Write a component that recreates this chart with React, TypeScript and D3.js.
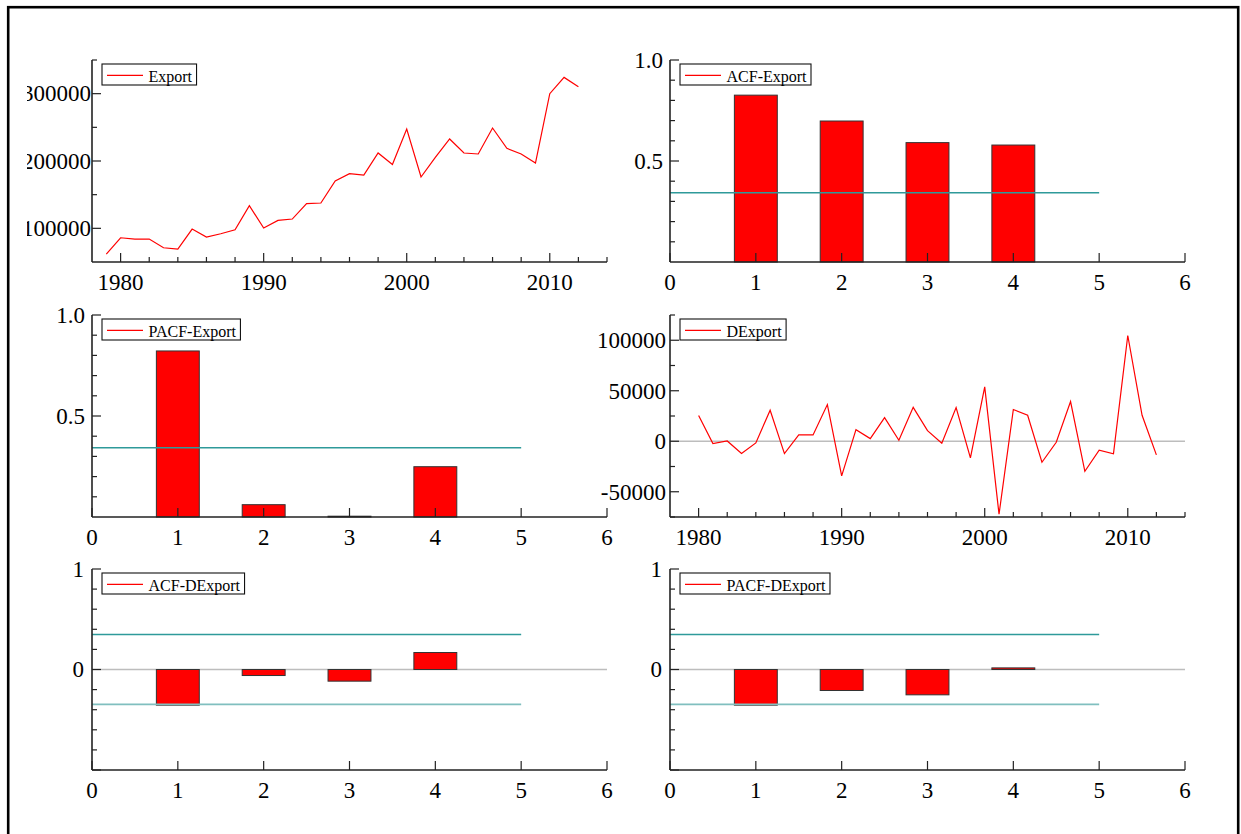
import React from 'react';
import * as d3 from 'd3';

// ---------- data ----------
const years = [1979, 1980, 1981, 1982, 1983, 1984, 1985, 1986, 1987, 1988, 1989, 1990, 1991, 1992, 1993, 1994, 1995, 1996, 1997, 1998, 1999, 2000, 2001, 2002, 2003, 2004, 2005, 2006, 2007, 2008, 2009, 2010, 2011, 2012];
const exportValues = [61800, 86000, 84100, 84100, 71200, 69300, 98900, 87000, 91900, 97900, 133600, 100400, 111800, 113800, 136600, 137600, 170300, 181100, 179100, 211900, 194900, 247500, 176200, 205400, 232700, 211900, 210400, 249000, 218800, 210400, 197000, 300000, 324200, 310400];
const dYears = [1980, 1981, 1982, 1983, 1984, 1985, 1986, 1987, 1988, 1989, 1990, 1991, 1992, 1993, 1994, 1995, 1996, 1997, 1998, 1999, 2000, 2001, 2002, 2003, 2004, 2005, 2006, 2007, 2008, 2009, 2010, 2011, 2012];
const dExportValues = [25400, -2300, 300, -12200, -1700, 30700, -12200, 6300, 6300, 36300, -34300, 11500, 2600, 23400, 1000, 33600, 10500, -2000, 33300, -16500, 53800, -72300, 31400, 25700, -20800, -1000, 39300, -29700, -8900, -12500, 104700, 25700, -13500];
const lags = [1, 2, 3, 4];
const acfExport = [0.826, 0.698, 0.591, 0.579];
const pacfExport = [0.822, 0.061, 0.004, 0.249];
const acfDExport = [-0.355, -0.06, -0.116, 0.169];
const pacfDExport = [-0.355, -0.209, -0.252, 0.016];
const bandExport = 0.343;
const bandDExport = 0.348;

const yearTickLabels = [1980, 1990, 2000, 2010];
const lagTickLabels = [0, 1, 2, 3, 4, 5, 6];
const exportYTicks = [100000, 200000, 300000];
const dExportYTicks = [-50000, 0, 50000, 100000];
const acfYTicks = [0.5, 1.0];
const dAcfYTicks = [0, 1];

// ---------- layout ----------
const W = 1241;
const H = 834;
const FONT = "'Liberation Serif', 'Times New Roman', serif";
const TICK_FS = 23;
const colX = [92, 670];
const rowY = [60, 315, 569];
const rowH = [202, 202, 201];
const PW = 515;
const RED = '#ff0000';
const AXIS = '#222';

function measure(text: string, size: number) {
  try {
    const c = document.createElement('canvas').getContext('2d');
    if (c) {
      c.font = `${size}px 'Liberation Serif'`;
      return c.measureText(text).width;
    }
  } catch (e) {}
  return text.length * size * 0.5;
}

type Cfg = {
  col: number;
  row: number;
  kind: 'line' | 'bar';
  legend: string;
  xDomain: [number, number];
  yDomain: [number, number];
  xMajor: number[];
  xMinor: number[];
  yMajor: number[];
  yMinor: number[];
  yLabels: number[];
  yFmt: (v: number) => string;
  labelGap: number;
  xs: number[];
  ys: number[];
  band?: number;
  bandLower?: boolean;
  zero?: boolean;
  clipId?: string;
};

function Panel({ cfg }: { cfg: Cfg }) {
  const x0 = colX[cfg.col];
  const y0 = rowY[cfg.row];
  const h = rowH[cfg.row];
  const xs = d3.scaleLinear().domain(cfg.xDomain).range([x0, x0 + PW]);
  const ys = d3.scaleLinear().domain(cfg.yDomain).range([y0 + h, y0]);
  const yBottom = y0 + h;
  const els: React.ReactNode[] = [];

  if (cfg.zero) {
    els.push(<line key="zero" x1={xs(cfg.xDomain[0])} x2={xs(cfg.xDomain[1])} y1={ys(0)} y2={ys(0)} stroke="#bdbdbd" strokeWidth={1.6} />);
  }
  if (cfg.kind === 'bar') {
    cfg.xs.forEach((l, i) => {
      const v = cfg.ys[i];
      const yt = ys(Math.max(0, v));
      const yb = ys(Math.min(0, v));
      els.push(
        <rect key={'b' + i} x={xs(l - 0.25)} y={yt} width={xs(l + 0.25) - xs(l - 0.25)} height={Math.max(0.8, yb - yt)} fill={RED} stroke="#333" strokeWidth={1} />
      );
    });
  }
  if (cfg.band !== undefined) {
    els.push(<line key="bu" x1={xs(0)} x2={xs(5)} y1={ys(cfg.band)} y2={ys(cfg.band)} stroke="#2e9a9a" strokeWidth={1.5} />);
    if (cfg.bandLower) {
      els.push(<line key="bl" x1={xs(0)} x2={xs(5)} y1={ys(-cfg.band)} y2={ys(-cfg.band)} stroke="#80bfbf" strokeWidth={1.8} />);
    }
  }
  if (cfg.kind === 'line') {
    const line = d3.line<number>().x((d, i) => xs(cfg.xs[i])).y((d) => ys(d));
    els.push(<path key="ln" d={line(cfg.ys) || ''} fill="none" stroke={RED} strokeWidth={1.2} />);
  }
  // axes
  els.push(<line key="ax" x1={x0} x2={x0 + PW} y1={yBottom} y2={yBottom} stroke={AXIS} strokeWidth={1.6} />);
  els.push(<line key="ay" x1={x0} x2={x0} y1={y0} y2={yBottom} stroke={AXIS} strokeWidth={1.6} />);
  cfg.xMajor.forEach((t) => {
    els.push(<line key={'xM' + t} x1={xs(t)} x2={xs(t)} y1={yBottom} y2={yBottom - 9} stroke={AXIS} strokeWidth={1.2} />);
    els.push(
      <text key={'xl' + t} x={xs(t)} y={yBottom + 28} textAnchor="middle" fontSize={TICK_FS} fontFamily={FONT} fill="#000">
        {String(t)}
      </text>
    );
  });
  cfg.xMinor.forEach((t) => {
    els.push(<line key={'xm' + t} x1={xs(t)} x2={xs(t)} y1={yBottom} y2={yBottom - 5} stroke={AXIS} strokeWidth={1.2} />);
  });
  cfg.yMajor.forEach((t) => {
    els.push(<line key={'yM' + t} x1={x0} x2={x0 + 9} y1={ys(t)} y2={ys(t)} stroke={AXIS} strokeWidth={1.2} />);
  });
  cfg.yMinor.forEach((t) => {
    els.push(<line key={'ym' + t} x1={x0} x2={x0 + 5} y1={ys(t)} y2={ys(t)} stroke={AXIS} strokeWidth={1.2} />);
  });
  const labels = cfg.yLabels.map((t) => (
    <text key={'yl' + t} x={x0 - cfg.labelGap} y={ys(t) + 7.8} textAnchor="end" fontSize={TICK_FS} fontFamily={FONT} fill="#000">
      {cfg.yFmt(t)}
    </text>
  ));
  els.push(
    <g key="ylabels" clipPath={cfg.clipId ? `url(#${cfg.clipId})` : undefined}>
      {labels}
    </g>
  );
  // legend
  const lx = x0 + 10;
  const ly = y0 + 4;
  const tw = measure(cfg.legend, 16);
  els.push(
    <g key="legend">
      <rect x={lx} y={ly} width={tw + 51} height={21} fill="#fff" stroke="#111" strokeWidth={1.1} />
      <line x1={lx + 5} x2={lx + 41} y1={ly + 11.3} y2={ly + 11.3} stroke={RED} strokeWidth={1.2} />
      <text x={lx + 46.5} y={ly + 17.6} fontSize={16} fontFamily={FONT} fill="#000">
        {cfg.legend}
      </text>
    </g>
  );
  return <g>{els}</g>;
}

const yearMinor = d3.range(1980, 2015, 2).filter((y) => y % 10 !== 0);
const lagMinorNone: number[] = [];

const panels: Cfg[] = [
  {
    col: 0, row: 0, kind: 'line', legend: 'Export',
    xDomain: [1978, 2014], yDomain: [50000, 350000],
    xMajor: yearTickLabels, xMinor: yearMinor,
    yMajor: exportYTicks, yMinor: [150000, 250000, 350000],
    yLabels: exportYTicks, yFmt: (v) => String(v), labelGap: 1,
    xs: years, ys: exportValues, clipId: 'clipLeft',
  },
  {
    col: 1, row: 0, kind: 'bar', legend: 'ACF-Export',
    xDomain: [0, 6], yDomain: [0, 1],
    xMajor: lagTickLabels, xMinor: lagMinorNone,
    yMajor: [0.5, 1.0], yMinor: [0.1, 0.2, 0.3, 0.4, 0.6, 0.7, 0.8, 0.9],
    yLabels: acfYTicks, yFmt: (v) => v.toFixed(1), labelGap: 7,
    xs: lags, ys: acfExport, band: bandExport,
  },
  {
    col: 0, row: 1, kind: 'bar', legend: 'PACF-Export',
    xDomain: [0, 6], yDomain: [0, 1],
    xMajor: lagTickLabels, xMinor: lagMinorNone,
    yMajor: [0.5, 1.0], yMinor: [0.1, 0.2, 0.3, 0.4, 0.6, 0.7, 0.8, 0.9],
    yLabels: acfYTicks, yFmt: (v) => v.toFixed(1), labelGap: 7,
    xs: lags, ys: pacfExport, band: bandExport, clipId: 'clipLeft',
  },
  {
    col: 1, row: 1, kind: 'line', legend: 'DExport',
    xDomain: [1978, 2014], yDomain: [-75000, 125000],
    xMajor: yearTickLabels, xMinor: yearMinor,
    yMajor: dExportYTicks, yMinor: [-75000, -25000, 25000, 75000, 125000],
    yLabels: dExportYTicks, yFmt: (v) => String(v), labelGap: 4,
    xs: dYears, ys: dExportValues, zero: true,
  },
  {
    col: 0, row: 2, kind: 'bar', legend: 'ACF-DExport',
    xDomain: [0, 6], yDomain: [-1, 1],
    xMajor: lagTickLabels, xMinor: lagMinorNone,
    yMajor: [-1, 0, 1], yMinor: [-0.8, -0.6, -0.4, -0.2, 0.2, 0.4, 0.6, 0.8],
    yLabels: dAcfYTicks, yFmt: (v) => String(v), labelGap: 8,
    xs: lags, ys: acfDExport, band: bandDExport, bandLower: true, zero: true, clipId: 'clipLeft',
  },
  {
    col: 1, row: 2, kind: 'bar', legend: 'PACF-DExport',
    xDomain: [0, 6], yDomain: [-1, 1],
    xMajor: lagTickLabels, xMinor: lagMinorNone,
    yMajor: [-1, 0, 1], yMinor: [-0.8, -0.6, -0.4, -0.2, 0.2, 0.4, 0.6, 0.8],
    yLabels: dAcfYTicks, yFmt: (v) => String(v), labelGap: 8,
    xs: lags, ys: pacfDExport, band: bandDExport, bandLower: true, zero: true,
  },
];

export default function App() {
  return (
    <svg width={W} height={H} viewBox={`0 0 ${W} ${H}`} style={{ position: 'absolute', left: 0, top: 0, background: '#fff' }}>
      <defs>
        <clipPath id="clipLeft">
          <rect x={27} y={0} width={W - 27} height={H} />
        </clipPath>
      </defs>
      <rect x={0} y={0} width={W} height={H} fill="#fff" />
      <rect x={8.2} y={7.2} width={1230} height={900} fill="none" stroke="#000" strokeWidth={2.6} />
      {panels.map((p, i) => (
        <Panel key={i} cfg={p} />
      ))}
    </svg>
  );
}
